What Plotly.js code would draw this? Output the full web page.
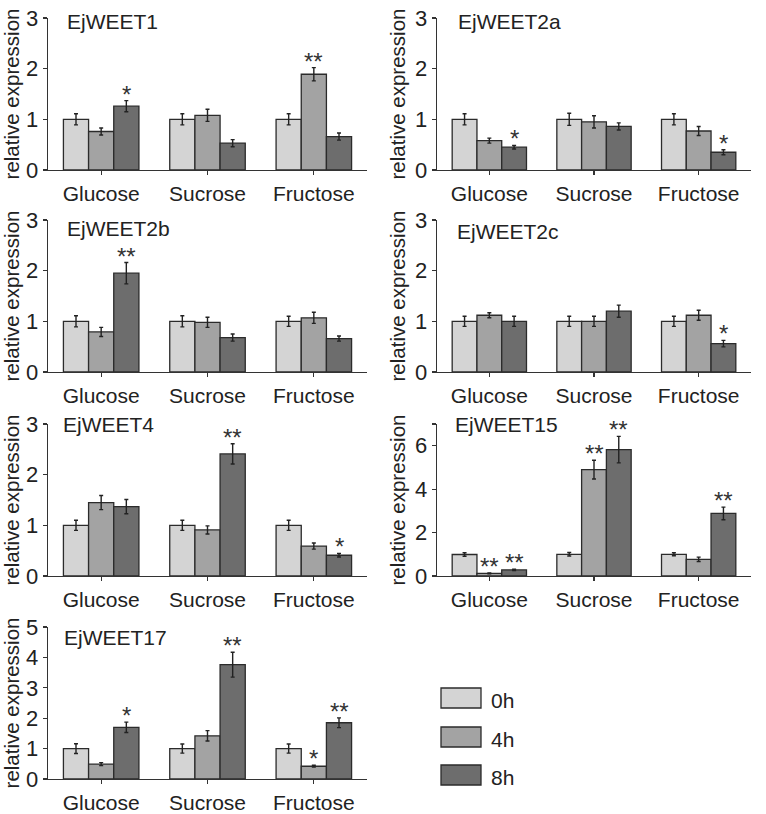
<!DOCTYPE html>
<html>
<head>
<meta charset="utf-8">
<script src="https://cdn.plot.ly/plotly-3.0.1.min.js"></script>
<style>html,body{margin:0;padding:0;background:#fff}#chart{width:766px;height:814px}</style>
</head>
<body>
<div id="chart"></div>
<script>
// Categories and series
const sugars = ['Glucose', 'Sucrose', 'Fructose'];
const times = ['0h', '4h', '8h'];
const genes = ['EjWEET1', 'EjWEET2a', 'EjWEET2b', 'EjWEET2c', 'EjWEET4', 'EjWEET15', 'EjWEET17'];

// rows = 0h / 4h / 8h, columns = Glucose / Sucrose / Fructose
const wt1Mean = [[1.00, 1.00, 1.00], [0.76, 1.08, 1.89], [1.26, 0.53, 0.66]];
const wt1Err  = [[0.11, 0.11, 0.11], [0.07, 0.12, 0.13], [0.11, 0.07, 0.07]];
const wt1Sig  = [['', '', ''], ['', '', '**'], ['*', '', '']];

const wt2aMean = [[1.00, 1.00, 1.00], [0.58, 0.95, 0.77], [0.45, 0.86, 0.35]];
const wt2aErr  = [[0.11, 0.12, 0.11], [0.05, 0.12, 0.09], [0.035, 0.07, 0.05]];
const wt2aSig  = [['', '', ''], ['', '', ''], ['*', '', '*']];

const wt2bMean = [[1.00, 1.00, 1.00], [0.79, 0.98, 1.07], [1.95, 0.68, 0.66]];
const wt2bErr  = [[0.11, 0.11, 0.10], [0.09, 0.10, 0.11], [0.21, 0.07, 0.05]];
const wt2bSig  = [['', '', ''], ['', '', ''], ['**', '', '']];

const wt2cMean = [[1.00, 1.00, 1.00], [1.12, 1.00, 1.12], [1.00, 1.20, 0.56]];
const wt2cErr  = [[0.10, 0.10, 0.10], [0.05, 0.10, 0.10], [0.10, 0.12, 0.065]];
const wt2cSig  = [['', '', ''], ['', '', ''], ['', '', '*']];

const wt4Mean = [[1.00, 1.00, 1.00], [1.45, 0.91, 0.59], [1.37, 2.41, 0.41]];
const wt4Err  = [[0.10, 0.10, 0.10], [0.14, 0.08, 0.06], [0.14, 0.20, 0.035]];
const wt4Sig  = [['', '', ''], ['', '', ''], ['', '**', '*']];

const wt15Mean = [[0.99, 1.00, 1.00], [0.12, 4.90, 0.77], [0.28, 5.82, 2.88]];
const wt15Err  = [[0.08, 0.08, 0.07], [0.02, 0.43, 0.10], [0.03, 0.61, 0.29]];
const wt15Sig  = [['', '', ''], ['**', '**', ''], ['**', '**', '**']];

const wt17Mean = [[1.00, 1.00, 1.00], [0.49, 1.42, 0.42], [1.70, 3.76, 1.85]];
const wt17Err  = [[0.16, 0.15, 0.15], [0.05, 0.17, 0.03], [0.17, 0.41, 0.16]];
const wt17Sig  = [['', '', ''], ['', '', '*'], ['*', '**', '**']];

const yMax  = [3, 3, 3, 3, 3, 7, 5];
const yStep = [1, 1, 1, 1, 1, 2, 1];

const means = [wt1Mean, wt2aMean, wt2bMean, wt2cMean, wt4Mean, wt15Mean, wt17Mean];
const errs  = [wt1Err, wt2aErr, wt2bErr, wt2cErr, wt4Err, wt15Err, wt17Err];
const sigs  = [wt1Sig, wt2aSig, wt2bSig, wt2cSig, wt4Sig, wt15Sig, wt17Sig];

// Styling / page geometry (pixels)
const colors = ['#d4d4d4', '#a3a3a3', '#6d6d6d'];
const W = 766, H = 814;
const colPx = [[48, 367], [437, 751]];
const rowPx = [[18, 170], [220, 372], [424, 576], [627, 779]];
const titleDx = [17, 19, 17, 18, 13, 16, 14];
const titleDy = [3, 3, 8, 11, 0, 0, 10];
const bargap = 0.29;
const barW = (1 - bargap) / times.length;
const FONT = 'Liberation Sans, Arial, sans-serif';

const data = [];
const annotations = [];
const shapes = [];
const layout = {
    width: W, height: H,
    margin: { l: 0, r: 0, t: 0, b: 0 },
    barmode: 'group', bargap: bargap, bargroupgap: 0,
    showlegend: false,
    paper_bgcolor: '#fff', plot_bgcolor: '#fff',
    font: { family: FONT, color: '#222', size: 21 }
};

genes.forEach((gene, p) => {
    const n = p === 0 ? '' : String(p + 1);
    const xa = 'x' + n, ya = 'y' + n;
    const col = colPx[p % 2], row = rowPx[Math.floor(p / 2)];

    times.forEach((t, k) => {
        data.push({
            type: 'bar', name: t,
            x: sugars.map((_, i) => i),
            y: means[p][k],
            error_y: { type: 'data', array: errs[p][k], visible: true, color: '#222', thickness: 1.4, width: 2 },
            marker: { color: colors[k], line: { color: '#2b2b2b', width: 1.3 } },
            xaxis: xa, yaxis: ya, hoverinfo: 'skip'
        });
        sigs[p][k].forEach((s, i) => {
            if (!s) return;
            annotations.push({
                xref: xa, yref: ya,
                x: i + (k - 1) * barW,
                y: means[p][k][i] + errs[p][k][i],
                text: s, showarrow: false, yanchor: 'bottom', yshift: -9,
                font: { size: 24, color: '#333' }
            });
        });
    });

    // y ticks, with an unlabeled tick at the top when the step skips it
    const tv = [], tt = [];
    for (let v = 0; v <= yMax[p]; v += yStep[p]) { tv.push(v); tt.push(String(v)); }
    if (tv[tv.length - 1] !== yMax[p]) { tv.push(yMax[p]); tt.push(''); }

    layout['xaxis' + n] = {
        domain: [col[0] / W, col[1] / W], anchor: ya,
        range: [-0.5, 2.5],
        tickvals: sugars.map((_, i) => i), ticktext: sugars,
        showline: true, linecolor: '#333', linewidth: 1.3,
        ticks: 'outside', ticklen: 4, tickcolor: '#333', tickwidth: 1.2,
        showgrid: false, zeroline: false, fixedrange: true,
        tickfont: { size: 21 }
    };
    layout['yaxis' + n] = {
        domain: [1 - row[1] / H, 1 - row[0] / H], anchor: xa,
        range: [0, yMax[p]],
        tickvals: tv, ticktext: tt,
        showline: true, linecolor: '#333', linewidth: 1.3,
        ticks: 'outside', ticklen: 4, tickcolor: '#333', tickwidth: 1.2,
        showgrid: false, zeroline: false, fixedrange: true,
        tickfont: { size: 22 },
        title: { text: 'relative expression', font: { size: 20.5 }, standoff: 4 }
    };

    annotations.push({
        xref: 'paper', yref: 'paper',
        x: (col[0] + titleDx[p]) / W, y: 1 - (row[0] + titleDy[p]) / H,
        xanchor: 'left', yanchor: 'middle',
        text: gene, showarrow: false, font: { size: 21, color: '#222' }
    });
});

// Legend drawn as boxes + labels to match the large swatches
const legY = [698, 737, 775];
times.forEach((t, k) => {
    shapes.push({
        type: 'rect', xref: 'paper', yref: 'paper',
        x0: 441 / W, x1: 481 / W,
        y0: 1 - (legY[k] + 10) / H, y1: 1 - (legY[k] - 10) / H,
        fillcolor: colors[k], line: { color: '#2b2b2b', width: 1.3 }
    });
    annotations.push({
        xref: 'paper', yref: 'paper',
        x: 489 / W, y: 1 - (legY[k] + 2) / H,
        xanchor: 'left', yanchor: 'middle',
        text: t, showarrow: false, font: { size: 21, color: '#222' }
    });
});

layout.annotations = annotations;
layout.shapes = shapes;

Plotly.newPlot('chart', data, layout, { displayModeBar: false, staticPlot: true });
</script>
</body>
</html>
